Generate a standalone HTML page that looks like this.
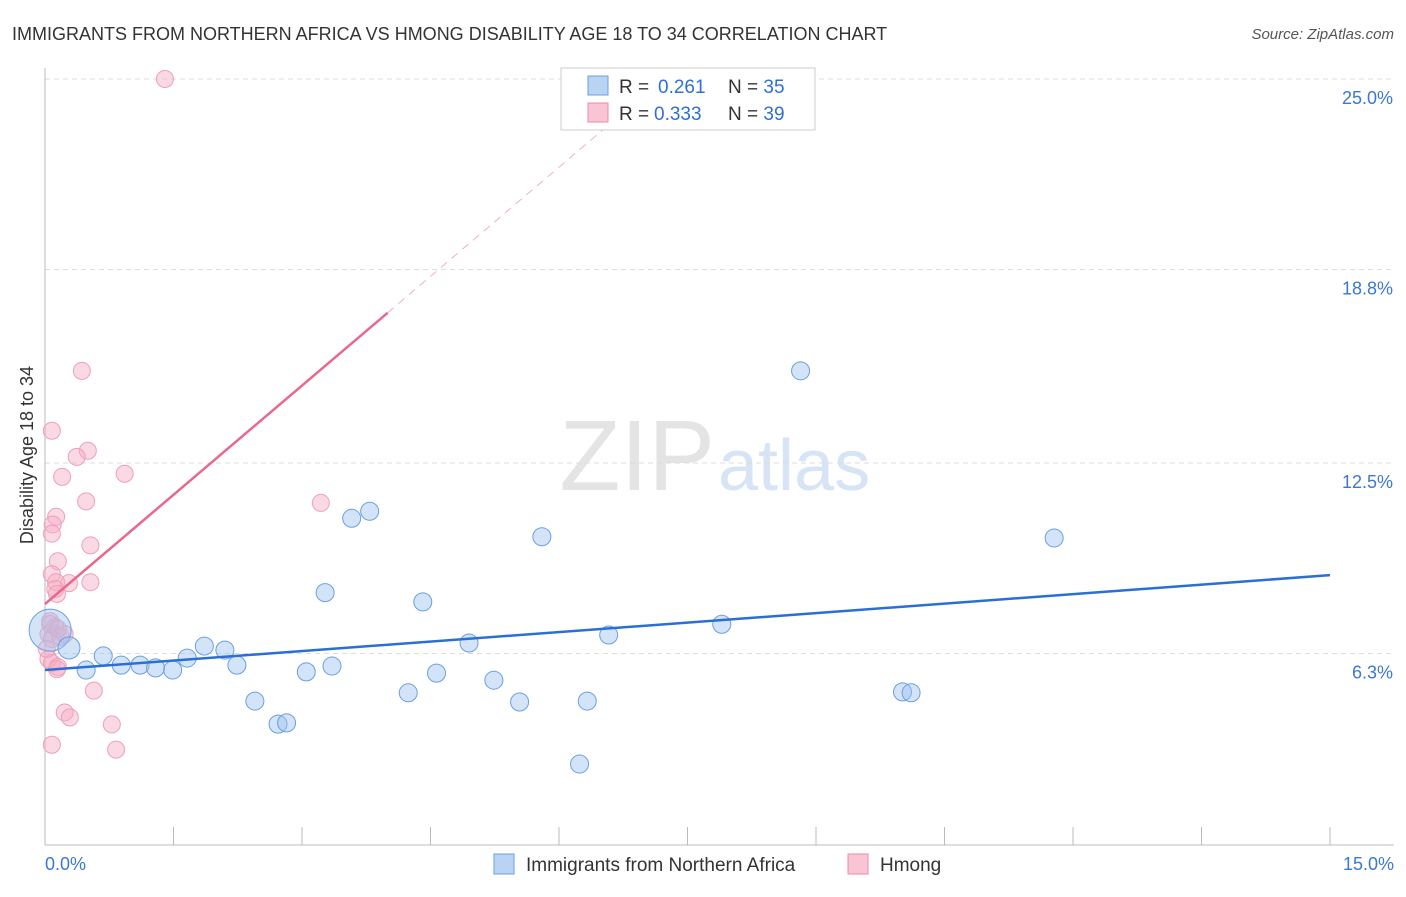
<!DOCTYPE html>
<html><head><meta charset="utf-8"><style>
body{margin:0;background:#fff;font-family:"Liberation Sans",sans-serif;}
svg text{font-family:"Liberation Sans",sans-serif;}
</style></head><body>
<svg id="chart" width="1406" height="892" xmlns="http://www.w3.org/2000/svg">
<text x="12" y="40" font-size="18" fill="#333">IMMIGRANTS FROM NORTHERN AFRICA VS HMONG DISABILITY AGE 18 TO 34 CORRELATION CHART</text>
<text x="1394" y="39" font-size="15" fill="#555" font-style="italic" text-anchor="end">Source: ZipAtlas.com</text>
<text x="715" y="490" font-size="100" fill="#e4e4e4" text-anchor="end" font-family="Liberation Serif">ZIP</text>
<text x="718" y="490" font-size="72" fill="#d6e4f5">atlas</text>
<text transform="translate(33,455) rotate(-90)" font-size="18" fill="#333" text-anchor="middle">Disability Age 18 to 34</text>
<g id="grid"></g><g id="axes"></g><g id="pts"></g><g id="lines"></g>
<g>
<rect x="561" y="68" width="254" height="62" fill="#fff" stroke="#ccc"/>
<rect x="588" y="76" width="20" height="19" fill="#b8d3f4" stroke="#6a9fe0"/>
<rect x="588" y="103" width="20" height="19" fill="#f9c5d5" stroke="#ee8aa8"/>
<text x="619" y="93" font-size="19" fill="#333">R = <tspan x="658" fill="#2f6fd6">0.261</tspan><tspan x="728">N = </tspan><tspan fill="#2f6fd6">35</tspan></text>
<text x="619" y="120" font-size="19" fill="#333">R = <tspan x="654" fill="#2f6fd6">0.333</tspan><tspan x="728">N = </tspan><tspan fill="#2f6fd6">39</tspan></text>
</g>
<g>
<rect x="494" y="854" width="20" height="20" fill="#b8d3f4" stroke="#6a9fe0"/>
<text x="526" y="871" font-size="19" fill="#333">Immigrants from Northern Africa</text>
<rect x="848" y="854" width="20" height="20" fill="#f9c5d5" stroke="#ee8aa8"/>
<text x="880" y="871" font-size="19" fill="#333">Hmong</text>
</g>
</svg>
<script>
const yTicks=[25.0,18.8,12.5,6.3];
const yTickLabels=["25.0%","18.8%","12.5%","6.3%"];
const xEndLabels=["0.0%","15.0%"];
const blueX=[0.06,0.28,0.48,0.68,0.89,1.11,1.29,1.49,1.66,1.86,2.1,2.24,2.45,2.72,2.82,3.05,3.35,3.58,3.79,3.27,4.24,4.41,4.57,4.95,5.24,5.54,5.8,6.24,6.33,6.58,7.9,8.82,10.01,10.11,11.78];
const blueY=[7.06,6.48,5.76,6.22,5.92,5.92,5.83,5.76,6.15,6.54,6.41,5.92,4.75,4.0,4.04,5.7,5.89,10.7,10.93,8.28,5.02,7.98,5.66,6.64,5.43,4.72,10.1,2.7,4.75,6.9,7.25,15.5,5.05,5.02,10.06];
const blueR=[22,12,10,10,10,10,10,10,10,10,10,10,10,10,10,10,10,10,10,10,10,10,10,10,10,10,10,10,10,10,10,10,10,10,10];
const pinkX=[1.4,0.43,0.08,0.5,0.37,0.2,0.93,0.48,3.22,0.13,0.09,0.08,0.53,0.15,0.08,0.13,0.12,0.14,0.28,0.53,0.06,0.12,0.04,0.08,0.18,0.23,0.04,0.08,0.15,0.14,0.57,0.23,0.29,0.78,0.08,0.83,0.02,0.06,0.15];
const pinkY=[25.0,15.5,13.55,12.9,12.7,12.05,12.15,11.25,11.2,10.75,10.5,10.2,9.82,9.3,8.88,8.62,8.4,8.24,8.59,8.62,7.35,7.16,6.93,6.77,6.84,6.93,6.12,5.99,5.86,5.79,5.09,4.38,4.22,3.99,3.33,3.17,6.45,7.26,7.1];
const blueLine=[5.76,8.85];
const pinkLine=[7.91,2.37];
const NS="http://www.w3.org/2000/svg";
const X0=45,X1=1330,XMAX=15,YBASE=847,YSCALE=30.72;
function sx(v){return X0+(X1-X0)*v/XMAX;}
function sy(v){return YBASE-v*YSCALE;}
function mk(tag,attrs,parent){const e=document.createElementNS(NS,tag);for(const k in attrs)e.setAttribute(k,attrs[k]);document.getElementById(parent).appendChild(e);return e;}
yTicks.forEach((t,i)=>{
  const g=mk('line',{x1:45,x2:1394,y1:sy(t),y2:sy(t),stroke:'#ddd','stroke-dasharray':'5,4'},'grid');
  
  
  const l=mk('text',{x:1393,y:sy(t)+25,'font-size':18,fill:'#3a78d4','text-anchor':'end'},'axes');
  l.textContent=yTickLabels[i];
  
  
});
const ya=mk('line',{x1:45,x2:45,y1:68,y2:845,stroke:'#bbb'},'axes');


const xa=mk('line',{x1:45,x2:1394,y1:845,y2:845,stroke:'#bbb'},'axes');


for(let i=1;i<=10;i++){
  const t=mk('line',{x1:sx(i*1.5),x2:sx(i*1.5),y1:827,y2:845,stroke:'#bbb'},'axes');
  
  
}
const xl0=mk('text',{x:45,y:870,'font-size':18,fill:'#3a78d4'},'axes');
xl0.textContent=xEndLabels[0];


const xl1=mk('text',{x:1394,y:870,'font-size':18,fill:'#3a78d4','text-anchor':'end'},'axes');
xl1.textContent=xEndLabels[1];


pinkX.forEach((x,i)=>{
  const c=mk('circle',{cx:sx(x),cy:sy(pinkY[i]),r:8.5,fill:'rgba(246,170,195,0.45)',stroke:'#eea0b8','stroke-width':1},'pts');
  
  
});
blueX.forEach((x,i)=>{
  const c=mk('circle',{cx:sx(x),cy:sy(blueY[i]),r:blueR[i]-1,fill:'rgba(160,195,240,0.45)',stroke:'#6a9fe0','stroke-width':1},'pts');
  
  
});
const bl=mk('line',{x1:sx(0),y1:sy(blueLine[0]),x2:sx(15),y2:sy(blueLine[1]),stroke:'#2a6fd6','stroke-width':2.5},'lines');


const pEnd=4.0, pDash=6.6;
const pl=mk('line',{x1:sx(0),y1:sy(pinkLine[0]),x2:sx(pEnd),y2:sy(pinkLine[0]+pinkLine[1]*pEnd),stroke:'#e8688e','stroke-width':2.5},'lines');


const pd=mk('line',{x1:sx(pEnd),y1:sy(pinkLine[0]+pinkLine[1]*pEnd),x2:sx(pDash),y2:sy(pinkLine[0]+pinkLine[1]*pDash),stroke:'#f0b0c2','stroke-width':1,'stroke-dasharray':'8,6'},'lines');


</script>
</body></html>
